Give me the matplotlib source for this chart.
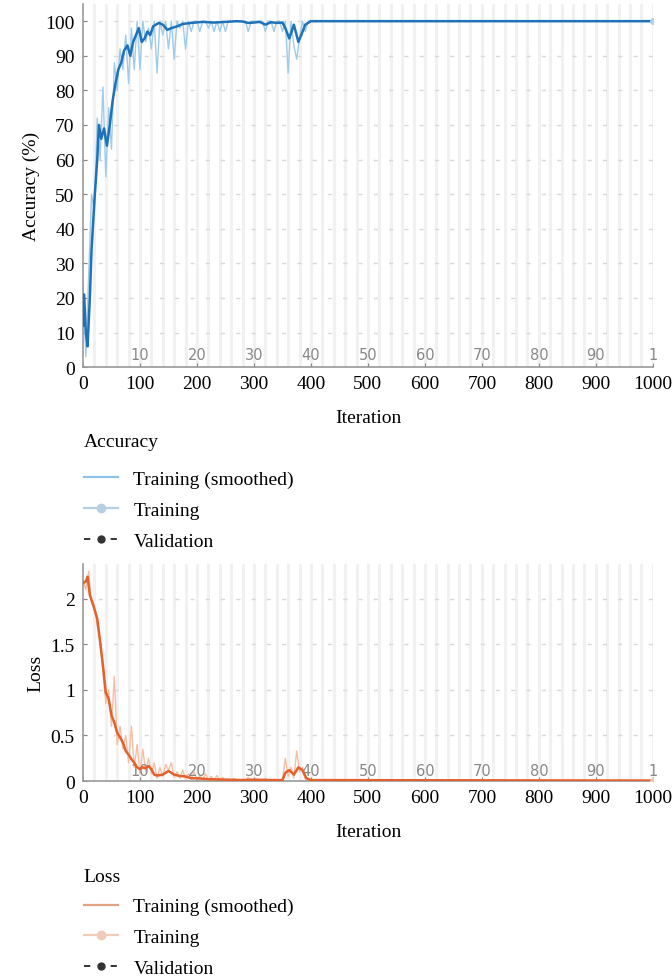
"""Training progress plot: accuracy and loss vs iteration"""

import numpy as np
import matplotlib.pyplot as plt
from matplotlib.lines import Line2D

plt.rcParams['font.family'] = ['Liberation Serif', 'DejaVu Serif']

# raw training values, sampled every 5 iterations up to 400, then the last point
raw_iter = list(range(0, 401, 5)) + [1000]
raw_acc = [25, 3, 27, 50, 45, 72, 60, 81, 55, 75, 63, 88, 80, 92, 86, 96, 82, 98, 86, 100,
           86, 100, 94, 98, 92, 100, 85, 100, 96, 100, 92, 100, 89, 100, 98, 100, 92, 100, 97, 100,
           100, 97, 100, 100, 98, 100, 97, 100, 97, 100, 97, 100, 100, 100, 100, 100, 100, 100, 97, 100,
           100, 100, 100, 100, 97, 100, 100, 97, 100, 100, 97, 100, 85, 100, 93, 89, 95, 100, 97, 100,
           100, 100]
raw_loss = [2.2, 2.1, 2.3, 1.95, 1.9, 1.7, 1.55, 1.2, 0.85, 1.0, 0.6, 1.15, 0.4, 0.6, 0.35, 0.5,
            0.2, 0.6, 0.15, 0.4, 0.08, 0.35, 0.1, 0.25, 0.08, 0.2, 0.03, 0.15, 0.05, 0.18, 0.12, 0.2,
            0.04, 0.1, 0.03, 0.12, 0.02, 0.08, 0.02, 0.1, 0.01, 0.06, 0.01, 0.08, 0.01, 0.05, 0.01, 0.06,
            0.01, 0.04, 0.01, 0.02, 0.01, 0.03, 0.01, 0.01, 0.02, 0.01, 0.04, 0.01, 0.01, 0.02, 0.01, 0.01,
            0.03, 0.01, 0.01, 0.02, 0.01, 0.01, 0.01, 0.25, 0.05, 0.15, 0.03, 0.33, 0.1, 0.15, 0.02, 0.03,
            0.01, 0.005]

# smoothed curves
sm_acc_iter = [0, 2, 5, 8, 12, 15, 20, 25, 28, 32, 37, 42, 47, 52, 57, 62, 67, 72, 78, 83, 88, 93, 98,
               103, 108, 113, 118, 123, 128, 133, 140, 148, 155, 165, 175, 190, 210, 230, 250, 270, 280,
               290, 300, 310, 320, 330, 340, 350, 355, 362, 370, 378, 383, 390, 400, 1000]
sm_acc = [12, 21, 10, 6, 20, 34, 48, 60, 70, 66, 69, 64, 70, 77, 82, 86, 88, 91.5, 93, 90, 94, 96, 98,
          94, 95, 97, 96, 98.5, 99, 99.5, 99, 97.5, 98, 98.5, 99.2, 99.5, 99.8, 99.6, 99.8, 100, 99.9,
          99.5, 99.6, 99.8, 99, 99.7, 99.5, 99.6, 98, 95, 99, 94, 96, 99, 100, 100]

sm_loss_iter = [0, 5, 8, 12, 18, 25, 30, 35, 40, 45, 50, 55, 60, 65, 70, 75, 80, 85, 90, 95, 100, 105,
                110, 115, 120, 125, 130, 140, 150, 160, 170, 180, 190, 200, 220, 250, 280, 300, 330, 350,
                355, 362, 370, 378, 385, 392, 400, 1000]
sm_loss = [2.17, 2.19, 2.24, 2.04, 1.93, 1.78, 1.53, 1.27, 0.97, 0.9, 0.72, 0.64, 0.53, 0.48, 0.42,
           0.33, 0.29, 0.24, 0.2, 0.15, 0.13, 0.15, 0.14, 0.165, 0.13, 0.07, 0.06, 0.07, 0.11, 0.07,
           0.055, 0.05, 0.03, 0.03, 0.02, 0.015, 0.01, 0.015, 0.01, 0.01, 0.09, 0.12, 0.07, 0.15, 0.12,
           0.03, 0.01, 0.005]

epoch_pos = [100, 200, 300, 400, 500, 600, 700, 800, 900, 1000]
epoch_labels = ["10", "20", "30", "40", "50", "60", "70", "80", "90", "1"]


def style_axis(ax, ymax, yticks, yticklabels, ylabel):
	ax.set_xlim(0, 1000)
	ax.set_ylim(0, ymax)
	for xv in range(20, 1001, 20):
		ax.axvline(xv, color='#f1f1f1', lw=2.2, zorder=0)
	for yv in yticks[1:]:
		ax.axhline(yv, color='#d9d9d9', lw=1.0, ls=(0, (3, 8)), zorder=0.5)
	ax.set_xticks(range(0, 1001, 100))
	ax.set_yticks(yticks)
	ax.set_yticklabels(yticklabels)
	ax.tick_params(direction='in', length=3, color='#888888', labelsize=14, pad=6)
	for s in ['top', 'right']:
		ax.spines[s].set_visible(False)
	for s in ['left', 'bottom']:
		ax.spines[s].set_color('#999999')
		ax.spines[s].set_linewidth(1.2)
	ax.set_xlabel("Iteration", fontsize=14, labelpad=12)
	ax.set_ylabel(ylabel, fontsize=14)
	for xp, lab in zip(epoch_pos, epoch_labels):
		ax.text(xp, 0.015, lab, transform=ax.get_xaxis_transform(), ha='center', va='bottom',
				fontsize=10.5, color='#888888', family='DejaVu Sans')


fig = plt.figure(figsize=(6.72, 9.79), dpi=100)
ax1 = fig.add_axes([0.1235, 0.624, 0.848, 0.371])
ax2 = fig.add_axes([0.1235, 0.2012, 0.848, 0.2217])

# accuracy
style_axis(ax1, 105, [0, 10, 20, 30, 40, 50, 60, 70, 80, 90, 100],
		   ["0", "10", "20", "30", "40", "50", "60", "70", "80", "90", "100"], "Accuracy (%)")
ax1.plot(raw_iter, raw_acc, color='#9fcbea', lw=1.0, zorder=2)
ax1.plot(sm_acc_iter, sm_acc, color='#1f72b8', lw=1.8, zorder=3)
ax1.plot([raw_iter[-1]], [raw_acc[-1]], 'o', color='#a9d0ee', ms=4, zorder=4)

# loss
style_axis(ax2, 2.38, [0, 0.5, 1, 1.5, 2], ["0", "0.5", "1", "1.5", "2"], "Loss")
ax2.plot(raw_iter, raw_loss, color='#f6bfa4', lw=1.0, zorder=2)
ax2.plot(sm_loss_iter, sm_loss, color='#e2612c', lw=1.8, zorder=3)
ax2.plot([raw_iter[-1]], [raw_loss[-1]], 'o', color='#f4c6b0', ms=4, zorder=4)


def add_legend(ax, title, c_smooth, c_raw, top, sep, spacing):
	handles = [Line2D([], [], color=c_smooth, lw=1.6),
			   Line2D([], [], color=c_raw, lw=1.6, marker='o', ms=6),
			   Line2D([], [], color='#333333', lw=1.4, ls=(0, (3.2, 10.5)), marker='o', ms=5)]
	leg = ax.legend(handles, ["Training (smoothed)", "Training", "Validation"], title=title,
					loc='upper left', bbox_to_anchor=(0.113, top), bbox_transform=fig.transFigure,
					frameon=False, fontsize=14, title_fontsize=14, alignment='left',
					handlelength=1.75, handletextpad=0.8, labelspacing=spacing, borderaxespad=0)
	leg._legend_box.sep = sep
	return leg


add_legend(ax1, "Accuracy", '#8ec3e8', '#b7cfe2', 0.565, 15, 0.68)
add_legend(ax2, "Loss", '#e2a284', '#f0cbbb', 0.12, 9, 0.68)

fig.savefig("out.png", dpi=100)
